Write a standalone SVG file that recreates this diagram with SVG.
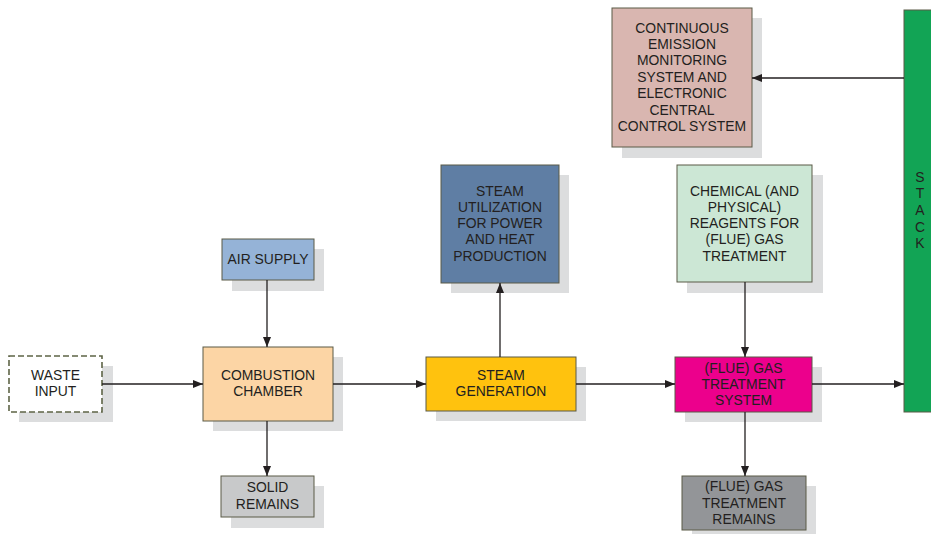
<svg xmlns="http://www.w3.org/2000/svg" width="931" height="534" viewBox="0 0 931 534">
<style>
.sh{fill:#DCDDDE}
.bx{stroke:#5A5A46;stroke-width:1}
text{font-family:"Liberation Sans",Arial,sans-serif;font-size:13.9px;fill:#231F20;text-anchor:middle}
.cn{stroke:#231F20;stroke-width:1.3;fill:none;marker-end:url(#ah)}
</style>
<defs>
<marker id="ah" viewBox="0 0 10 8" refX="10" refY="4" markerWidth="10" markerHeight="8" markerUnits="userSpaceOnUse" orient="auto">
<path d="M0,0 L10,4 L0,8 Z" fill="#231F20"/>
</marker>
</defs>
<rect width="931" height="534" fill="#fff"/>
<g id="waste">
<rect class="sh" x="19" y="366" width="94" height="56"/>
<rect x="9" y="356" width="93" height="56" fill="#fff" stroke="#5E6446" stroke-width="1.6" stroke-dasharray="6,3"/>
<text x="55.5" y="380">WASTE</text><text x="55.5" y="396">INPUT</text>
</g>
<g id="air">
<rect class="sh" x="232" y="249" width="92" height="42"/>
<rect class="bx" x="222" y="239" width="92" height="41" fill="#95B3D7"/>
<text x="268" y="264">AIR SUPPLY</text>
</g>
<g id="combustion">
<rect class="sh" x="213" y="357" width="130" height="74"/>
<rect class="bx" x="203" y="347" width="130" height="74" fill="#FCD5A5"/>
<text x="268" y="380">COMBUSTION</text><text x="268" y="396">CHAMBER</text>
</g>
<g id="solid">
<rect class="sh" x="231" y="486" width="93" height="42"/>
<rect class="bx" x="221" y="476" width="93" height="41" fill="#C8C9CA"/>
<text x="267.5" y="492">SOLID</text><text x="267.5" y="509">REMAINS</text>
</g>
<g id="steamutil">
<rect class="sh" x="451" y="175" width="118" height="118"/>
<rect class="bx" x="441" y="165" width="118" height="118" fill="#5F7EA4"/>
<text x="500" y="196">STEAM</text><text x="500" y="212">UTILIZATION</text><text x="500" y="228">FOR POWER</text><text x="500" y="244">AND HEAT</text><text x="500" y="261">PRODUCTION</text>
</g>
<g id="steamgen">
<rect class="sh" x="436" y="367" width="150" height="54"/>
<rect class="bx" x="426" y="357" width="150" height="54" fill="#FFC20E"/>
<text x="501" y="380">STEAM</text><text x="501" y="396">GENERATION</text>
</g>
<g id="cems">
<rect class="sh" x="622" y="18" width="140" height="140"/>
<rect class="bx" x="612" y="8" width="140" height="139" fill="#D9B6B0"/>
<text x="682" y="33">CONTINUOUS</text><text x="682" y="49">EMISSION</text><text x="682" y="65">MONITORING</text><text x="682" y="82">SYSTEM AND</text><text x="682" y="98">ELECTRONIC</text><text x="682" y="115">CENTRAL</text><text x="682" y="131">CONTROL SYSTEM</text>
</g>
<g id="chemical">
<rect class="sh" x="687" y="175" width="136" height="118"/>
<rect class="bx" x="677" y="165" width="135" height="117" fill="#CCE7D5"/>
<text x="744.5" y="196">CHEMICAL (AND</text><text x="744.5" y="212">PHYSICAL)</text><text x="744.5" y="228">REAGENTS FOR</text><text x="744.5" y="244">(FLUE) GAS</text><text x="744.5" y="261">TREATMENT</text>
</g>
<g id="flue">
<rect class="sh" x="685" y="367" width="137" height="55"/>
<rect class="bx" x="675" y="357" width="137" height="55" fill="#EC008C"/>
<text x="743.5" y="373">(FLUE) GAS</text><text x="743.5" y="389">TREATMENT</text><text x="743.5" y="405">SYSTEM</text>
</g>
<g id="flueremains">
<rect class="sh" x="692" y="486" width="124" height="54"/>
<rect class="bx" x="682" y="476" width="124" height="54" fill="#939598"/>
<text x="744" y="491">(FLUE) GAS</text><text x="744" y="508">TREATMENT</text><text x="744" y="524">REMAINS</text>
</g>
<g id="stack">
<rect x="904" y="10" width="30" height="402" fill="#12A455" stroke="#5A5A46" stroke-width="1"/>
<text x="920" y="182">S</text><text x="920" y="198">T</text><text x="920" y="215">A</text><text x="920" y="232">C</text><text x="920" y="248">K</text>
</g>
<g id="connectors">
<line class="cn" x1="102" y1="384" x2="203" y2="384"/>
<line class="cn" x1="267" y1="280" x2="267" y2="347"/>
<line class="cn" x1="267" y1="421" x2="267" y2="476"/>
<line class="cn" x1="333" y1="384" x2="426" y2="384"/>
<line class="cn" x1="500" y1="357" x2="500" y2="283"/>
<line class="cn" x1="576" y1="384" x2="675" y2="384"/>
<line class="cn" x1="745" y1="282" x2="745" y2="357"/>
<line class="cn" x1="745" y1="412" x2="745" y2="476"/>
<line class="cn" x1="812" y1="384" x2="904" y2="384"/>
<line class="cn" x1="904" y1="78" x2="752" y2="78"/>
</g>
</svg>
